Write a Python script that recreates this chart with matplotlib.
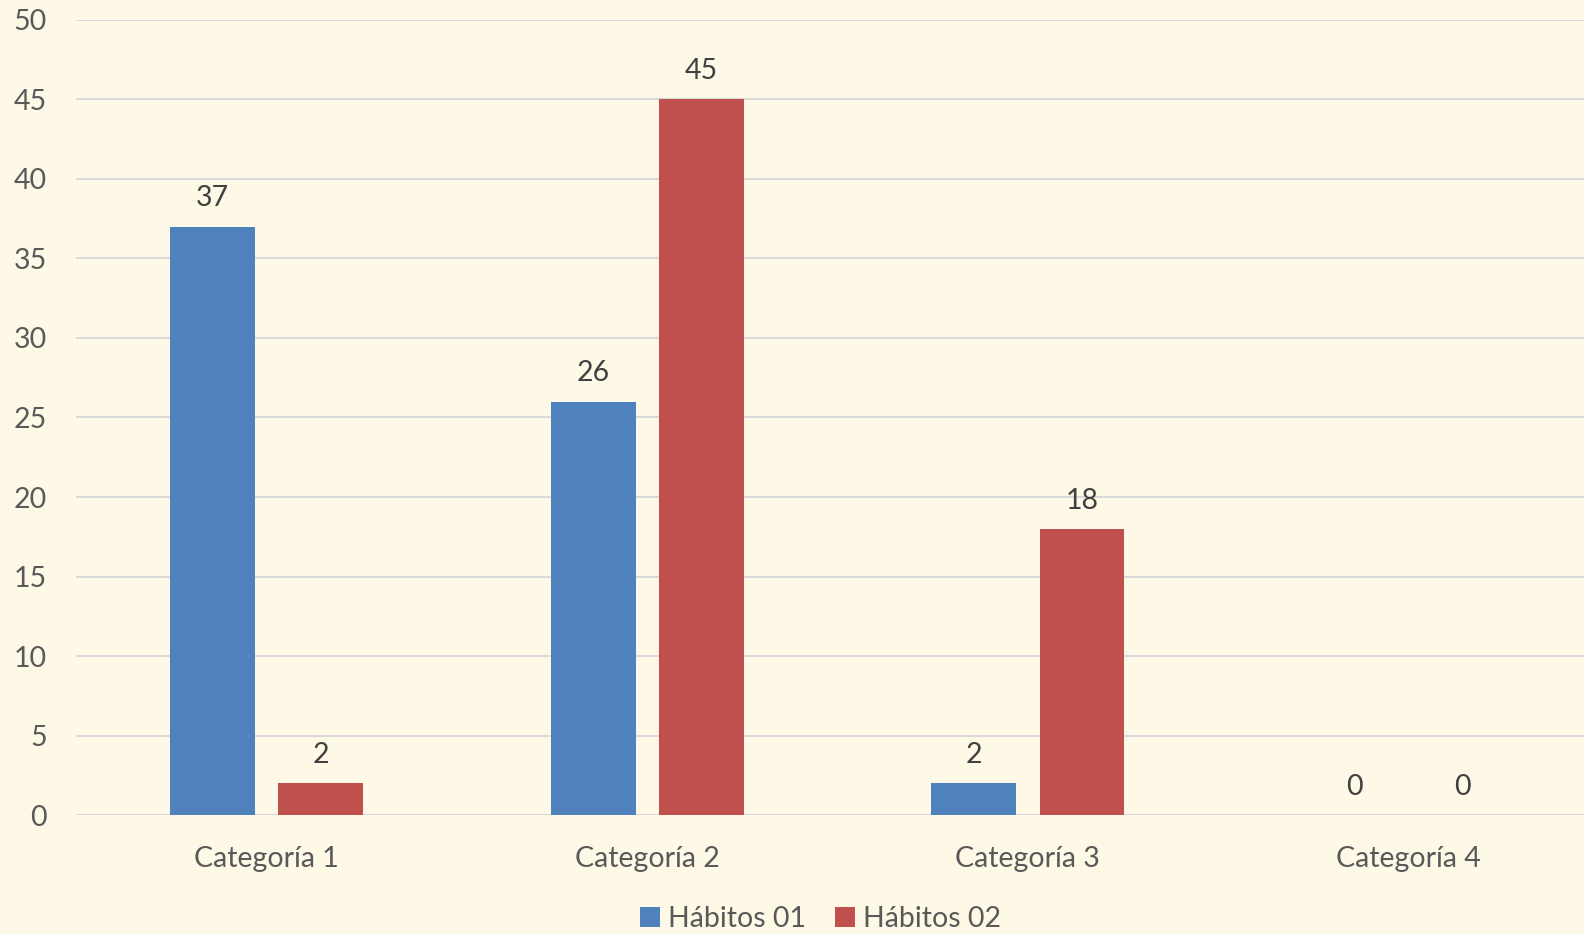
import numpy as np
import matplotlib.pyplot as plt

categories = ["Categoría 1", "Categoría 2", "Categoría 3", "Categoría 4"]
habitos_01 = [37, 26, 2, 0]
habitos_02 = [2, 45, 18, 0]
series_names = ["Hábitos 01", "Hábitos 02"]

plt.rcParams['font.family'] = ['Lato', 'DejaVu Sans']

bg = '#FEF8E6'
fig = plt.figure(figsize=(15.84, 9.34), dpi=100, facecolor=bg)
ax = fig.add_axes([0.048, 0.1274, 0.9615, 0.8512], facecolor=bg)

x = np.arange(len(categories))
w = 0.223
off = 0.142
b1 = ax.bar(x - off, habitos_01, w, color='#4F81BD', label=series_names[0], zorder=3)
b2 = ax.bar(x + off, habitos_02, w, color='#C0504D', label=series_names[1], zorder=3)

for bars in (b1, b2):
    ax.bar_label(bars, padding=11, fontsize=20.5, color='#404040')

ax.set_xlim(-0.5, 3.5)
ax.set_ylim(0, 50)
ax.set_yticks(range(0, 51, 5))
ax.set_xticks(x)
ax.set_xticklabels(categories)
ax.tick_params(axis='both', length=0, labelsize=20.5, labelcolor='#595959')
ax.tick_params(axis='x', pad=22)
ax.tick_params(axis='y', pad=21)

ax.grid(axis='y', color='#D9D9D9', linewidth=1.5, zorder=0)
for s in ax.spines.values():
    s.set_visible(False)

fig.legend(loc='lower center', bbox_to_anchor=(0.518, -0.025), ncol=2, frameon=False,
           fontsize=20.5, labelcolor='#595959', handlelength=0.7, handleheight=0.7,
           handletextpad=0.3, columnspacing=1.0)

fig.savefig('out.png', dpi=100, facecolor=bg)
